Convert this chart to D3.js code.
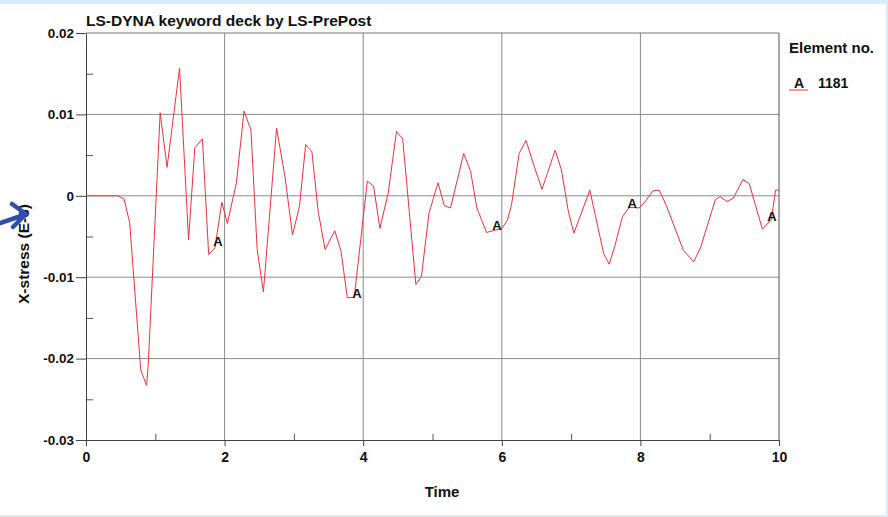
<!DOCTYPE html>
<html>
<head>
<meta charset="utf-8">
<script src="https://cdn.jsdelivr.net/npm/d3@7"></script>
<style>
  body { margin: 0; background: #fff; }
  svg { display: block; font-family: "Liberation Sans", Arial, sans-serif; }
</style>
</head>
<body>
<div id="chart"></div>
<script>
// valeurs (temps, contrainte X)
const time = [0, 0.46, 0.55, 0.63, 0.79, 0.875, 0.9, 1.07, 1.17, 1.35, 1.48, 1.57, 1.68, 1.77, 1.86,
  1.96, 2.04, 2.17, 2.28, 2.38, 2.47, 2.56, 2.75, 2.87, 2.98, 3.08, 3.17, 3.26, 3.35, 3.45, 3.59,
  3.68, 3.77, 3.87, 4.06, 4.15, 4.24, 4.36, 4.48, 4.57, 4.76, 4.84, 4.95, 5.08, 5.17, 5.26, 5.45,
  5.55, 5.64, 5.78, 6.0, 6.08, 6.14, 6.25, 6.35, 6.46, 6.58, 6.77, 6.86, 6.96, 7.04, 7.27, 7.47,
  7.55, 7.63, 7.74, 7.84, 7.98, 8.07, 8.18, 8.27, 8.37, 8.62, 8.77, 8.87, 9.08, 9.15, 9.25, 9.34,
  9.48, 9.57, 9.76, 9.89, 9.95, 10.0];
const stress = [0, 0, -0.0004, -0.0033, -0.0214, -0.0233, -0.0204, 0.0102, 0.0035, 0.0157, -0.0054,
  0.0059, 0.007, -0.0072, -0.0064, -0.0008, -0.0034, 0.0016, 0.0104, 0.0081, -0.0066, -0.0118,
  0.0083, 0.0024, -0.0048, -0.0013, 0.0063, 0.0054, -0.0019, -0.0066, -0.0043, -0.0068, -0.0125,
  -0.0125, 0.0018, 0.0012, -0.004, 0.0003, 0.0079, 0.007, -0.0109, -0.0099, -0.0021, 0.0016,
  -0.0012, -0.0015, 0.0052, 0.003, -0.0015, -0.0045, -0.004, -0.003, -0.0011, 0.0052, 0.0068,
  0.0038, 0.0008, 0.0056, 0.0032, -0.0019, -0.0046, 0.0007, -0.0071, -0.0084, -0.0062, -0.0026,
  -0.0014, -0.0015, -0.0007, 0.0006, 0.0007, -0.0011, -0.0067, -0.0081, -0.0063, -0.0005,
  -0.0001, -0.0007, -0.0003, 0.002, 0.0015, -0.0041, -0.0029, 0.0007, 0.0007];

// repères "A" sur la courbe
const markT = [1.905, 3.91, 5.93, 7.88, 9.9];
const markV = [-0.0055, -0.0119, -0.0036, -0.0009, -0.0025];

const xTicks = [0, 2, 4, 6, 8, 10];
const xMinor = [1, 3, 5, 7, 9];
const yTicks = [0.02, 0.01, 0, -0.01, -0.02, -0.03];
const yTickLabels = ["0.02", "0.01", "0", "-0.01", "-0.02", "-0.03"];
const yMinor = [0.015, 0.005, -0.005, -0.015, -0.025];

const W = 888, H = 517;
const plotLeft = 86, plotRight = 779, plotTop = 33, plotBottom = 440;

const svg = d3.select("#chart").append("svg")
  .attr("width", W).attr("height", H);

// cadre bleu clair de la capture
svg.append("rect").attr("width", W).attr("height", H).attr("fill", "#d9ebf8");
svg.append("rect").attr("x", 0).attr("y", 4).attr("width", 886).attr("height", 511).attr("fill", "#fff");

const x = d3.scaleLinear().domain([0, 10]).range([plotLeft, plotRight]);
const y = d3.scaleLinear().domain([-0.03, 0.02]).range([plotBottom, plotTop]);

// grille
svg.append("g").selectAll("line").data([2, 4, 6, 8]).enter().append("line")
  .attr("x1", d => x(d)).attr("x2", d => x(d))
  .attr("y1", plotTop).attr("y2", plotBottom)
  .attr("stroke", "#8a8a8a").attr("stroke-width", 1);
svg.append("g").selectAll("line").data([0.01, 0, -0.01, -0.02]).enter().append("line")
  .attr("x1", plotLeft).attr("x2", plotRight)
  .attr("y1", d => y(d)).attr("y2", d => y(d))
  .attr("stroke", "#8a8a8a").attr("stroke-width", 1);

// bords haut et droit
svg.append("line").attr("x1", plotLeft).attr("x2", plotRight).attr("y1", plotTop).attr("y2", plotTop)
  .attr("stroke", "#777");
svg.append("line").attr("x1", plotRight).attr("x2", plotRight).attr("y1", plotTop).attr("y2", plotBottom)
  .attr("stroke", "#555");

// petites graduations
svg.append("g").attr("transform", "translate(0," + plotBottom + ")")
  .call(d3.axisTop(x).tickValues(xMinor).tickSize(6).tickFormat(""))
  .call(g => g.select(".domain").remove())
  .selectAll("line").attr("stroke", "#555");
svg.append("g").attr("transform", "translate(" + plotLeft + ",0)")
  .call(d3.axisRight(y).tickValues(yMinor).tickSize(7).tickFormat(""))
  .call(g => g.select(".domain").remove())
  .selectAll("line").attr("stroke", "#555");

// axe des x
const xAxis = svg.append("g").attr("transform", "translate(0," + plotBottom + ")")
  .call(d3.axisBottom(x).tickValues(xTicks).tickSize(6).tickSizeOuter(0).tickPadding(6));
xAxis.select(".domain").attr("stroke", "#444");
xAxis.selectAll("line").attr("stroke", "#444");
xAxis.selectAll("text").attr("font-size", 14).attr("font-weight", "bold")
  .attr("fill", "#111").attr("font-family", "Liberation Sans, Arial, sans-serif");

// axe des y
const yAxis = svg.append("g").attr("transform", "translate(" + plotLeft + ",0)")
  .call(d3.axisLeft(y).tickValues(yTicks).tickSize(10).tickSizeOuter(0).tickPadding(2)
    .tickFormat((d, i) => yTickLabels[i]));
yAxis.select(".domain").attr("stroke", "#444");
yAxis.selectAll("line").attr("stroke", "#444");
yAxis.selectAll("text").attr("font-size", 13.5).attr("font-weight", "bold")
  .attr("fill", "#111").attr("font-family", "Liberation Sans, Arial, sans-serif");

// courbe
const line = d3.line().x((d, i) => x(time[i])).y(d => y(d));
svg.append("path").datum(stress)
  .attr("d", line)
  .attr("fill", "none")
  .attr("stroke", "#e8333c")
  .attr("stroke-width", 1);

// étiquettes A
svg.append("g").selectAll("text").data(markT).enter().append("text")
  .attr("x", d => x(d))
  .attr("y", (d, i) => y(markV[i]) + 5)
  .attr("text-anchor", "middle")
  .attr("font-size", 13).attr("font-weight", "bold").attr("fill", "#111")
  .text("A");

// titres
svg.append("text").attr("x", plotLeft).attr("y", 26)
  .attr("font-size", 15.5).attr("font-weight", "bold").attr("fill", "#111")
  .text("LS-DYNA keyword deck by LS-PrePost");
svg.append("text").attr("x", 442).attr("y", 497)
  .attr("text-anchor", "middle")
  .attr("font-size", 15).attr("font-weight", "bold").attr("fill", "#111")
  .text("Time");
svg.append("text")
  .attr("transform", "translate(29," + 254 + ") rotate(-90)")
  .attr("text-anchor", "middle")
  .attr("font-size", 15.5).attr("font-weight", "bold").attr("fill", "#111")
  .text("X-stress (E-6)");

// légende
svg.append("text").attr("x", 789).attr("y", 53)
  .attr("font-size", 15).attr("font-weight", "bold").attr("fill", "#111")
  .text("Element no.");
svg.append("line").attr("x1", 789).attr("x2", 808).attr("y1", 90).attr("y2", 90)
  .attr("stroke", "#e8333c").attr("stroke-width", 1);
svg.append("text").attr("x", 799).attr("y", 88).attr("text-anchor", "middle")
  .attr("font-size", 14).attr("font-weight", "bold").attr("fill", "#111")
  .text("A");
svg.append("text").attr("x", 818).attr("y", 88)
  .attr("font-size", 14).attr("font-weight", "bold").attr("fill", "#111")
  .text("1181");

// flèche bleue à gauche
svg.append("path")
  .attr("d", "M0,223 L24,215 M12,204 L26,214 L13,227")
  .attr("fill", "none").attr("stroke", "#2f4fae").attr("stroke-width", 4.5)
  .attr("stroke-linecap", "round").attr("stroke-linejoin", "round");
</script>
</body>
</html>
